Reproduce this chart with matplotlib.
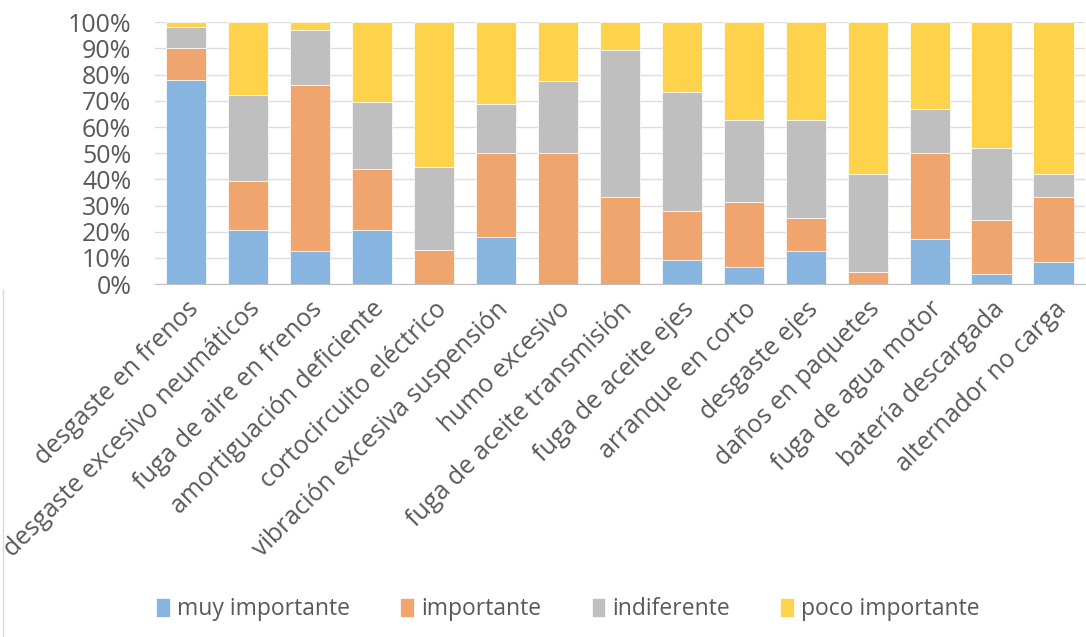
import numpy as np
import matplotlib.pyplot as plt
from matplotlib.lines import Line2D

plt.rcParams['font.family'] = ['Open Sans', 'DejaVu Sans']

categorias = ["desgaste en frenos", "desgaste excesivo neumáticos", "fuga de aire en frenos",
              "amortiguación deficiente", "cortocircuito eléctrico", "vibración excesiva suspensión",
              "humo excesivo", "fuga de aceite transmisión", "fuga de aceite ejes",
              "arranque en corto", "desgaste ejes", "daños en paquetes",
              "fuga de agua motor", "batería descargada", "alternador no carga"]

muy_importante = [78.1, 20.7, 12.8, 20.7, 0.0, 18.1, 0.0, 0.0, 9.3, 6.5, 12.8, 0.0, 17.2, 3.8, 8.3]
importante = [12.0, 18.7, 63.1, 23.2, 12.9, 31.9, 50.0, 33.3, 18.6, 24.9, 12.3, 4.7, 32.8, 20.6, 25.0]
indiferente = [8.1, 32.8, 21.3, 25.7, 31.9, 18.8, 27.7, 56.0, 45.3, 31.1, 37.4, 37.4, 17.0, 27.5, 8.8]
poco_importante = [1.8, 27.8, 2.8, 30.4, 55.2, 31.2, 22.3, 10.7, 26.8, 37.5, 37.5, 57.9, 33.0, 48.1, 57.9]

series = [("muy importante", muy_importante, "#88B4E0"),
          ("importante", importante, "#F0A46E"),
          ("indiferente", indiferente, "#BFBFBF"),
          ("poco importante", poco_importante, "#FFD24C")]

fig = plt.figure(figsize=(10.86, 6.37), dpi=100)
ax = fig.add_axes([0.1427, 0.554, 0.856, 0.411])

x = np.arange(len(categorias))
base = np.zeros(len(categorias))
for nombre, vals, color in series:
    vals = np.array(vals)
    ax.bar(x, vals, 0.65, bottom=base, color=color, label=nombre, edgecolor="white", linewidth=0.5, zorder=2)
    base += vals

ax.set_xlim(-0.5, len(categorias) - 0.5)
ax.set_ylim(0, 100)
ax.set_yticks(np.arange(0, 101, 10))
ax.set_yticklabels([f"{v}%" for v in range(0, 101, 10)], fontsize=18, color="#595959")
ax.set_xticks(x)
ax.set_xticklabels(categorias, rotation=45, ha="right", rotation_mode="anchor", fontsize=18, color="#595959")
ax.tick_params(axis="x", length=0, pad=9)
ax.tick_params(axis="y", length=0, pad=17)
ax.grid(axis="y", color="#DDDDDD", linewidth=1, zorder=0)
for s in ["top", "right", "left"]:
    ax.spines[s].set_visible(False)
ax.spines["bottom"].set_color("#BFBFBF")

fig.legend(loc="center", bbox_to_anchor=(0.523, 0.044), ncol=4, frameon=False, fontsize=16.5,
           handlelength=0.6, handleheight=0.9, handletextpad=0.3, columnspacing=2.2, labelcolor="#595959")

fig.add_artist(Line2D([0.003, 0.003], [0.0, 0.545], color="#D9D9D9", linewidth=1))

fig.savefig("out.png", dpi=100)
